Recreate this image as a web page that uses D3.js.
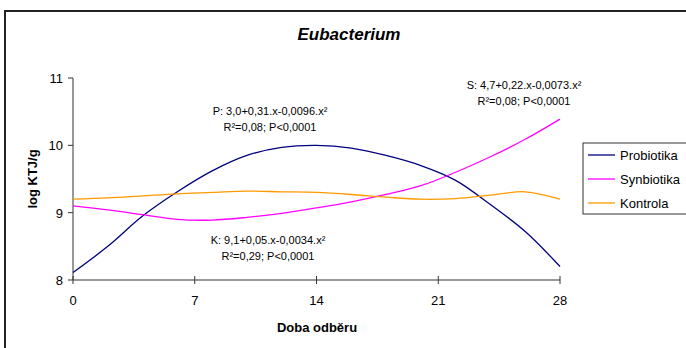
<!DOCTYPE html>
<html>
<head>
<meta charset="utf-8">
<script src="https://cdn.jsdelivr.net/npm/d3@7"></script>
<style>
  body { margin: 0; background: #fff; }
  text { font-family: "Liberation Sans", Arial, sans-serif; }
</style>
</head>
<body>
<div class="chart"></div>
<script>
const days = [0, 2, 4, 6, 8, 10, 12, 14, 16, 18, 20, 22, 24, 26, 28];
const probiotika = [8.11, 8.50, 8.95, 9.31, 9.62, 9.85, 9.97, 10.00, 9.96, 9.85, 9.70, 9.48, 9.12, 8.72, 8.20];
const synbiotika = [9.10, 9.04, 8.97, 8.90, 8.89, 8.93, 8.99, 9.07, 9.16, 9.27, 9.40, 9.60, 9.83, 10.09, 10.39];
const kontrola = [9.20, 9.22, 9.25, 9.28, 9.30, 9.32, 9.31, 9.30, 9.27, 9.23, 9.20, 9.21, 9.26, 9.31, 9.20];
const seriesNames = ['Probiotika', 'Synbiotika', 'Kontrola'];
const xTicks = [0, 7, 14, 21, 28];
const yTicks = [8, 9, 10, 11];
const equations = [
  ['P: 3,0+0,31.x-0,0096.x²', 'R²=0,08; P<0,0001'],
  ['S: 4,7+0,22.x-0,0073.x²', 'R²=0,08; P<0,0001'],
  ['K: 9,1+0,05.x-0,0034.x²', 'R²=0,29; P<0,0001']
];

const width = 686, height = 348;
const colors = ['#000080', '#ff00ff', '#ff9900'];

const svg = d3.select('.chart').append('svg').attr('width', width).attr('height', height);

// outer frame (goes past the right/bottom edge like the original)
svg.append('rect')
  .attr('x', 5).attr('y', 11)
  .attr('width', 700).attr('height', 360)
  .attr('fill', 'none').attr('stroke', '#222').attr('stroke-width', 2);

const xScale = d3.scaleLinear().domain([0, 28]).range([73, 560]);
const yScale = d3.scaleLinear().domain([8, 11]).range([280, 78]);

svg.append('text')
  .attr('x', 349).attr('y', 40)
  .attr('text-anchor', 'middle')
  .attr('font-size', 17).attr('font-weight', 'bold').attr('font-style', 'italic')
  .text('Eubacterium');

// axes
const xAxis = svg.append('g').attr('transform', 'translate(0,280)');
xAxis.append('line').attr('x1', 73).attr('x2', 560).attr('stroke', '#333');
xAxis.selectAll('.xt').data(xTicks).join('line')
  .attr('x1', d => xScale(d)).attr('x2', d => xScale(d))
  .attr('y1', -4).attr('y2', 4).attr('stroke', '#333');
xAxis.selectAll('.xl').data(xTicks).join('text')
  .attr('x', d => xScale(d)).attr('y', 25)
  .attr('text-anchor', 'middle').attr('font-size', 13)
  .text(d => d);

const yAxis = svg.append('g').attr('transform', 'translate(73,0)');
yAxis.append('line').attr('y1', 78).attr('y2', 280).attr('stroke', '#333');
yAxis.selectAll('.yt').data(yTicks).join('line')
  .attr('x1', -5).attr('x2', 0)
  .attr('y1', d => yScale(d)).attr('y2', d => yScale(d)).attr('stroke', '#333');
yAxis.selectAll('.yl').data(yTicks).join('text')
  .attr('x', -10).attr('y', d => yScale(d) + 5)
  .attr('text-anchor', 'end').attr('font-size', 13)
  .text(d => d);

svg.append('text')
  .attr('transform', 'translate(37,179) rotate(-90)')
  .attr('text-anchor', 'middle')
  .attr('font-size', 13).attr('font-weight', 'bold')
  .text('log KTJ/g');

svg.append('text')
  .attr('x', 317).attr('y', 332)
  .attr('text-anchor', 'middle')
  .attr('font-size', 13).attr('font-weight', 'bold')
  .text('Doba odběru');

// lines
const line = d3.line()
  .x((d, i) => xScale(days[i]))
  .y(d => yScale(d))
  .curve(d3.curveCatmullRom);

svg.append('g').selectAll('path')
  .data([probiotika, synbiotika, kontrola])
  .join('path')
  .attr('d', d => line(d))
  .attr('fill', 'none')
  .attr('stroke', (d, i) => colors[i])
  .attr('stroke-width', 1.3);

// regression equations
const eqPos = [[270, 115], [524, 89], [268, 244]];
equations.forEach((e, i) => {
  const t = svg.append('text')
    .attr('text-anchor', 'middle')
    .attr('font-size', 11);
  e.forEach((s, j) => {
    t.append('tspan')
      .attr('x', eqPos[i][0]).attr('y', eqPos[i][1] + j * 16)
      .text(s);
  });
});

// legend
const legend = svg.append('g').attr('transform', 'translate(583,143)');
legend.append('rect')
  .attr('width', 120).attr('height', 71)
  .attr('fill', '#fff').attr('stroke', '#333');
const items = legend.selectAll('g').data(seriesNames).join('g')
  .attr('transform', (d, i) => 'translate(0,' + (12 + i * 24) + ')');
items.append('line')
  .attr('x1', 5).attr('x2', 32)
  .attr('stroke', (d, i) => colors[i]).attr('stroke-width', 1.3);
items.append('text')
  .attr('x', 37).attr('y', 5)
  .attr('font-size', 13)
  .text(d => d);
</script>
</body>
</html>
